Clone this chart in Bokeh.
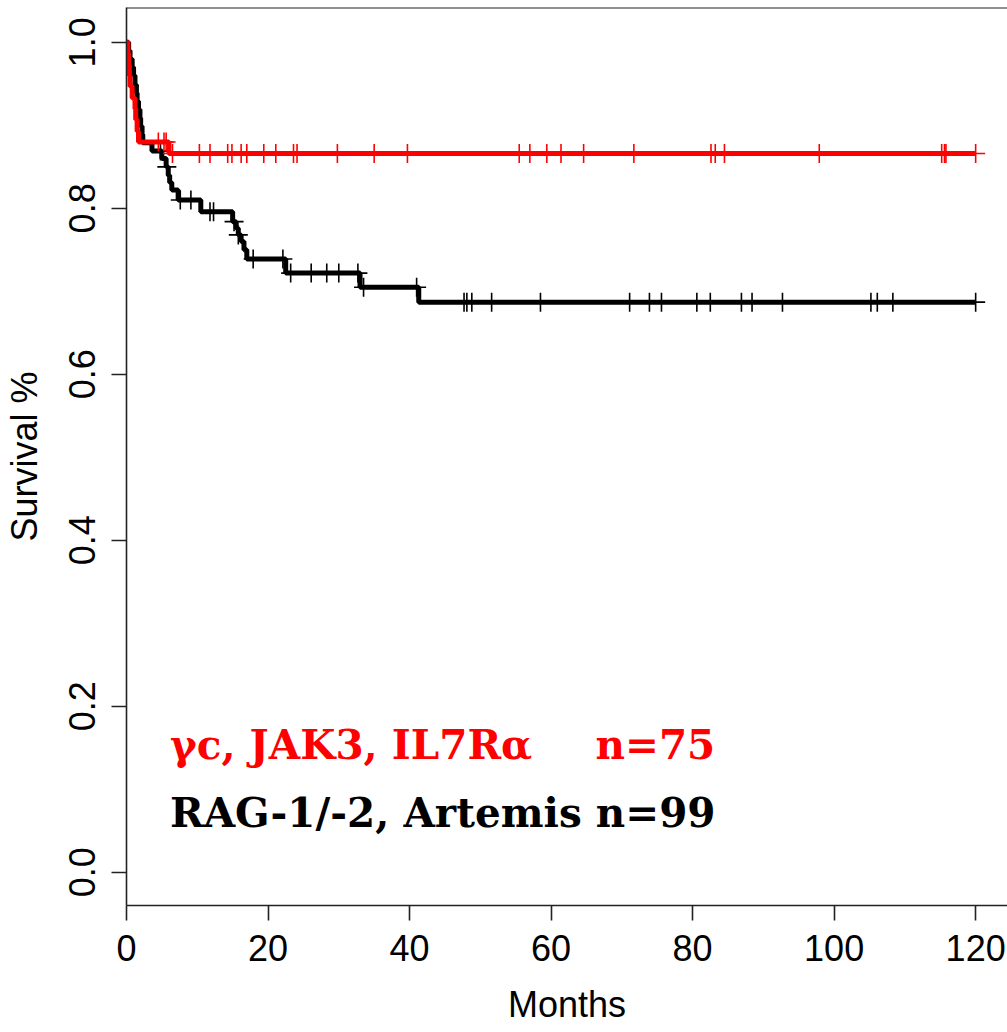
import numpy as np
from bokeh.plotting import figure
from bokeh.models import Range1d, FixedTicker, Span, Label, PrintfTickFormatter
from bokeh.embed import file_html
from bokeh.resources import INLINE

# ---- data ----
red_time = [0, 0.2, 0.3, 0.4, 0.5, 0.8, 1.2, 1.3, 1.5, 1.7, 6.0, 120]
red_surv = [1.0, 0.987, 0.973, 0.960, 0.947, 0.933, 0.920, 0.907, 0.893, 0.880, 0.866, 0.866]
red_censor = [4.5, 5.3, 5.6, 6.5, 10.3, 11.8, 14.3, 14.9, 16.2, 17.0, 19.4, 21.1, 23.6, 24.1,
              29.8, 35.0, 39.7, 55.5, 57.0, 59.4, 61.4, 64.6, 71.7, 82.6, 83.2, 84.5, 97.9,
              115.2, 115.6, 115.8, 120.0]

black_time = [0, 0.3, 0.5, 0.8, 1.0, 1.2, 1.4, 1.5, 1.7, 1.9, 2.0, 2.2, 2.3, 3.6, 5.0, 5.6,
              5.9, 6.1, 6.4, 7.3, 10.5, 15.0, 15.5, 15.8, 16.2, 16.6, 17.0, 22.5, 33.0, 41.3, 120]
black_surv = [1.0, 0.990, 0.980, 0.970, 0.960, 0.949, 0.939, 0.929, 0.919, 0.909, 0.899, 0.889,
              0.879, 0.869, 0.860, 0.850, 0.840, 0.831, 0.822, 0.810, 0.796, 0.784, 0.776, 0.768,
              0.760, 0.750, 0.739, 0.722, 0.705, 0.687, 0.687]
black_censor = [4.8, 5.7, 7.6, 9.1, 11.8, 12.3, 15.2, 15.8, 17.9, 22.1, 23.2, 26.1, 28.3, 30.0,
                32.7, 33.5, 41.0, 47.7, 48.1, 48.8, 51.6, 58.5, 71.1, 73.9, 75.6, 80.6, 82.5,
                86.9, 88.4, 92.7, 105.2, 106.1, 108.3, 120.0]

x_ticks = [0, 20, 40, 60, 80, 100, 120]
y_ticks = [0.0, 0.2, 0.4, 0.6, 0.8, 1.0]

red_label = "\u03b3c, JAK3, IL7R\u03b1"
red_n = "n=75"
black_label = "RAG-1/-2, Artemis n=99"


def surv_at(times, surv, t):
    times = np.asarray(times)
    surv = np.asarray(surv)
    idx = np.searchsorted(times, t, side="right") - 1
    return surv[idx]


p = figure(width=1007, height=1032, output_backend="svg", toolbar_location=None,
           x_range=Range1d(0, 124.5), y_range=Range1d(-0.04, 1.042),
           min_border_left=126, min_border_right=0, min_border_top=7, min_border_bottom=127)
p.outline_line_color = None
p.xgrid.visible = False
p.ygrid.visible = False
p.background_fill_color = "white"
p.border_fill_color = "white"

FONT = "Liberation Sans"
for ax in (p.xaxis[0], p.yaxis[0]):
    ax.axis_line_color = "#222222"
    ax.axis_line_width = 1.6
    ax.major_tick_line_color = "#222222"
    ax.major_tick_line_width = 1.6
    ax.major_tick_in = 0
    ax.major_tick_out = 15
    ax.minor_tick_line_color = None
    ax.major_label_text_font = FONT
    ax.major_label_text_font_size = "36px"
    ax.major_label_text_color = "black"
    ax.axis_label_text_font = FONT
    ax.axis_label_text_font_size = "36px"
    ax.axis_label_text_font_style = "normal"
    ax.axis_label_text_color = "black"

p.xaxis.ticker = FixedTicker(ticks=x_ticks)
p.yaxis.ticker = FixedTicker(ticks=y_ticks)
p.yaxis.formatter = PrintfTickFormatter(format="%.1f")
p.yaxis.major_label_orientation = "vertical"
p.xaxis.axis_label = "Months"
p.yaxis.axis_label = "Survival %"
p.xaxis.major_label_standoff = 14
p.xaxis.axis_label_standoff = 20
p.yaxis.major_label_standoff = 16
p.yaxis.axis_label_standoff = 22

p.add_layout(Span(location=1.042, dimension="width", line_color="#222222", line_width=2))

# curves
p.step(black_time, black_surv, mode="after", line_color="black", line_width=5)
p.scatter(black_censor, surv_at(black_time, black_surv, black_censor), marker="cross",
          size=19, line_color="black", line_width=1.6)
p.step(red_time, red_surv, mode="after", line_color="#ff0000", line_width=5)
p.scatter(red_censor, surv_at(red_time, red_surv, red_censor), marker="cross",
          size=19, line_color="#ff0000", line_width=1.6)

TFONT = "DejaVu Serif"
p.add_layout(Label(x=6.15, y=0.153, text=red_label, text_color="#ff0000", text_font=TFONT,
                   text_font_size="40.5px", text_font_style="bold", text_baseline="alphabetic"))
p.add_layout(Label(x=83.2, y=0.153, text=red_n, text_color="#ff0000", text_font=TFONT,
                   text_font_size="40.5px", text_font_style="bold", text_baseline="alphabetic",
                   text_align="right"))
p.add_layout(Label(x=6.15, y=0.072, text=black_label, text_color="black", text_font=TFONT,
                   text_font_size="40.5px", text_font_style="bold", text_baseline="alphabetic"))

open("out.html", "w").write(file_html(p, INLINE))
